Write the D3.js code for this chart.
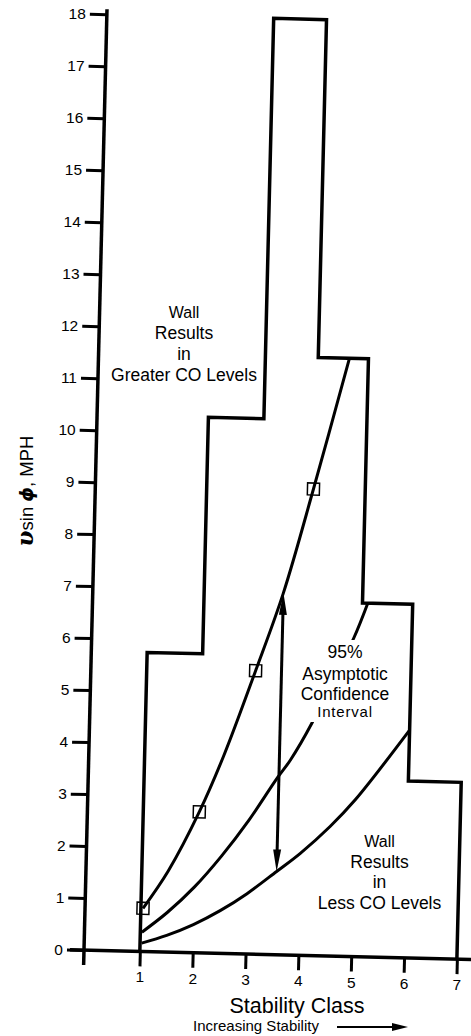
<!DOCTYPE html>
<html><head><meta charset="utf-8">
<script src="https://cdn.jsdelivr.net/npm/d3@7/dist/d3.min.js"></script>
<style>
html,body{margin:0;padding:0;background:#fff;}
svg{display:block;background:#fff;}
text{font-family:"Liberation Sans",Arial,Helvetica,sans-serif;fill:#000;}
</style></head><body>
<svg id="chart" width="471" height="1036"></svg>
<script>
// ---- data ----
const xTicks = [1, 2, 3, 4, 5, 6, 7];
const yTicks = [0, 1, 2, 3, 4, 5, 6, 7, 8, 9, 10, 11, 12, 13, 14, 15, 16, 17, 18];
// step boundary between the two regions
const boundaryX = [1.0, 1.0, 2.05, 2.05, 3.1, 3.1, 4.1, 4.1, 5.05, 5.05, 6.0, 6.0, 7.0, 7.0];
const boundaryY = [0, 5.75, 5.75, 10.3, 10.3, 18, 18, 11.5, 11.5, 6.8, 6.8, 3.4, 3.4, 0];
// observed points (squares)
const squareX = [1.04, 2.06, 3.06, 4.07];
const squareY = [0.83, 2.71, 5.45, 8.97];
// upper confidence curve
const upperX = [1.04, 1.5, 2.06, 2.5, 3.06, 3.55, 4.07, 4.69];
const upperY = [0.83, 1.56, 2.71, 3.81, 5.45, 6.96, 8.97, 11.5];
// middle (fitted) curve
const middleX = [1.03, 1.5, 2.0, 2.5, 3.0, 3.52, 3.76, 4.15, 4.5, 4.9, 5.15];
const middleY = [0.37, 0.76, 1.26, 1.87, 2.57, 3.40, 3.75, 4.47, 5.26, 6.12, 6.8];
// lower confidence curve
const lowerX = [1.03, 1.5, 2.0, 2.5, 3.0, 3.55, 3.99, 4.54, 5.0, 6.0];
const lowerY = [0.16, 0.32, 0.54, 0.82, 1.16, 1.6, 1.96, 2.49, 3.01, 4.38];
// double arrow for the confidence interval
const intervalX = 3.55;
const intervalY = [1.6, 6.96];

const upperLabel = ["Wall", "Results", "in", "Greater CO Levels"];
const lowerLabel = ["Wall", "Results", "in", "Less CO Levels"];
const ciLabel = ["95%", "Asymptotic", "Confidence", "Interval"];

// ---- layout ----
const ox = 84, oy = 950, theta = 1.4;
const x = d3.scaleLinear().domain([0, 7]).range([ox + 3, ox + 373]);
const y = d3.scaleLinear().domain([0, 18]).range([oy, oy - 936]);

const svg = d3.select("#chart");
const g = svg.append("g").attr("transform", `rotate(${theta},${ox},${oy})`);

// axes
const yAxis = d3.axisLeft(y).tickValues(yTicks).tickSize(17).tickPadding(4).tickFormat(d3.format("d"));
const ya = g.append("g").attr("transform", `translate(${ox},0)`).call(yAxis);
ya.select(".domain").remove();
ya.selectAll(".tick line").attr("stroke", "#000").attr("stroke-width", 3);
ya.selectAll(".tick text")
  .attr("font-size", 15.5).attr("font-family", "Liberation Sans, Arial, sans-serif").attr("fill", "#000")
  .attr("transform", function () { const xx = +d3.select(this).attr("x"); return `rotate(${-theta},${xx},0)`; });

const xAxis = d3.axisBottom(x).tickValues(xTicks).tickSize(15).tickPadding(5).tickFormat(d3.format("d"));
const xa = g.append("g").attr("transform", `translate(0,${oy})`).call(xAxis);
xa.select(".domain").remove();
xa.selectAll(".tick line").attr("stroke", "#000").attr("stroke-width", 3);
xa.selectAll(".tick text")
  .attr("font-size", 15.5).attr("font-family", "Liberation Sans, Arial, sans-serif").attr("fill", "#000")
  .attr("transform", function () { const yy = +d3.select(this).attr("y"); return `rotate(${-theta},0,${yy})`; });

g.append("line").attr("x1", ox).attr("x2", ox).attr("y1", oy + 15).attr("y2", y(18) - 5)
  .attr("stroke", "#000").attr("stroke-width", 3.5);
g.append("line").attr("x1", ox - 14).attr("x2", ox + 395).attr("y1", oy).attr("y2", oy)
  .attr("stroke", "#000").attr("stroke-width", 3.5);

// boundary
const pts = (xs, ys) => xs.map((v, i) => [v, ys[i]]);
const straight = d3.line().x(d => x(d[0])).y(d => y(d[1]));
g.append("path").attr("d", straight(pts(boundaryX, boundaryY)))
  .attr("fill", "none").attr("stroke", "#000").attr("stroke-width", 3.5).attr("stroke-linejoin", "miter");

// curves
const smooth = d3.line().x(d => x(d[0])).y(d => y(d[1])).curve(d3.curveCatmullRom.alpha(0.5));
[[upperX, upperY], [middleX, middleY], [lowerX, lowerY]].forEach(([xs, ys]) => {
  g.append("path").attr("d", smooth(pts(xs, ys)))
    .attr("fill", "none").attr("stroke", "#000").attr("stroke-width", 3);
});

// squares
g.selectAll("rect.sq").data(pts(squareX, squareY)).join("rect").attr("class", "sq")
  .attr("x", d => x(d[0]) - 6).attr("y", d => y(d[1]) - 6).attr("width", 12).attr("height", 12)
  .attr("fill", "none").attr("stroke", "#000").attr("stroke-width", 1.5);

// interval arrow
const ax = x(intervalX), aLo = y(intervalY[0]), aHi = y(intervalY[1]);
g.append("line").attr("x1", ax).attr("x2", ax).attr("y1", aLo - 18).attr("y2", aHi + 18)
  .attr("stroke", "#000").attr("stroke-width", 3);
g.append("path").attr("d", `M${ax},${aHi} L${ax - 4},${aHi + 22} L${ax + 4},${aHi + 22} Z`).attr("fill", "#000");
g.append("path").attr("d", `M${ax},${aLo} L${ax - 4},${aLo - 22} L${ax + 4},${aLo - 22} Z`).attr("fill", "#000");

// labels (unrotated)
function block(lines, cx, baselines, sizes) {
  const t = svg.append("g");
  lines.forEach((s, i) => {
    t.append("text").attr("x", cx).attr("y", baselines[i]).attr("text-anchor", "middle")
      .attr("font-size", sizes[i]).text(s);
  });
  return t;
}
block(upperLabel, 184, [318, 339, 360, 381], [16, 17.5, 17.5, 17.5]);
block(lowerLabel, 379.5, [847, 868, 888, 909], [16, 17.5, 17.5, 17.5]);
const ci = block(ciLabel, 345, [658, 680, 700, 717], [17.5, 17.5, 17.5, 15]);
ci.select("text:last-child").attr("letter-spacing", 0.8);
const bb = ci.node().getBBox();
ci.insert("rect", ":first-child").attr("x", bb.x - 3).attr("y", bb.y - 2)
  .attr("width", bb.width + 6).attr("height", bb.height + 4).attr("fill", "#fff");

// axis titles
svg.append("text").attr("x", 297).attr("y", 1013).attr("text-anchor", "middle")
  .attr("font-size", 21.5).text("Stability Class");
svg.append("text").attr("x", 193).attr("y", 1031).attr("font-size", 15).text("Increasing Stability");
svg.append("line").attr("x1", 337).attr("x2", 396).attr("y1", 1027).attr("y2", 1027)
  .attr("stroke", "#000").attr("stroke-width", 2);
svg.append("path").attr("d", "M408,1027 L392,1023 L392,1031 Z").attr("fill", "#000");

const yl = svg.append("text").attr("transform", "translate(33,491) rotate(-90)")
  .attr("text-anchor", "middle").attr("font-size", 18.5);
yl.append("tspan").attr("font-family", "DejaVu Serif, serif").attr("font-weight", "bold")
  .attr("font-style", "italic").attr("font-size", 23).text("υ");
yl.append("tspan").text("sin ");
yl.append("tspan").attr("font-family", "DejaVu Sans, sans-serif").attr("font-weight", "bold")
  .attr("font-style", "italic").text("ϕ");
yl.append("tspan").text(", MPH");
</script>
</body></html>
